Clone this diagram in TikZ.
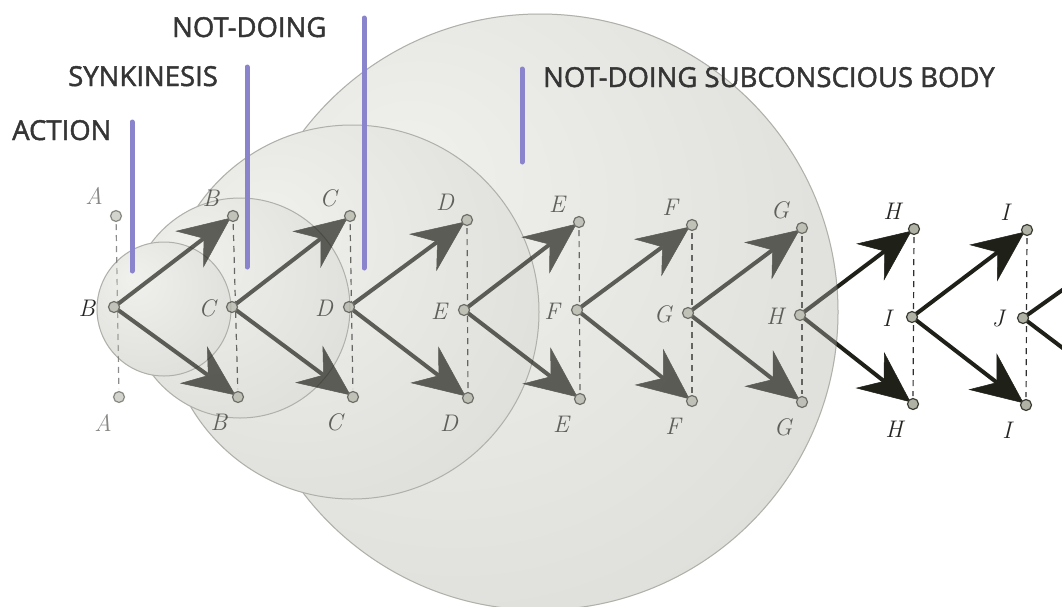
\documentclass[tikz,border=0pt]{standalone}
\usepackage{fontspec}
\newfontfamily\capfont{Open Sans}[FakeBold=1.6]
\usetikzlibrary{arrows.meta}

\definecolor{ink}{HTML}{1F2119}
\definecolor{letterink}{HTML}{262624}
\definecolor{dotfill}{HTML}{B0B2A6}
\definecolor{dotrim}{HTML}{3A3C32}
\definecolor{guideink}{HTML}{2E2E2E}
\definecolor{markerblue}{HTML}{8A84CC}
\definecolor{captext}{HTML}{353535}
\definecolor{sA}{HTML}{F0F0ED}
\definecolor{sB}{HTML}{E7E7E3}
\definecolor{sC}{HTML}{DEDEDA}
\definecolor{sD}{HTML}{D2D2CD}
\definecolor{sE}{HTML}{BEBEB8}
\definecolor{sF}{HTML}{ADADA7}
\definecolor{sEdge}{HTML}{B0B0AA}

\pgfdeclareradialshading{sphere}{\pgfpoint{-12bp}{12bp}}{%
  color(0bp)=(sA); color(18bp)=(sB); color(36bp)=(sC);
  color(50bp)=(sD); color(60bp)=(sE); color(68bp)=(sF)}

\tikzset{
  ball/.style={shading=sphere, draw=sEdge, line width=1pt},
  dot/.style={circle, minimum size=11pt, inner sep=0pt, fill=dotfill, draw=dotrim, line width=1.2pt},
  lett/.style={text=letterink, font=\fontsize{24}{24}\selectfont\itshape, inner sep=0pt},
  faded/.style={opacity=0.55},
  guide/.style={draw=guideink, line width=1.2pt, dash pattern=on 6pt off 5pt, shorten <=8pt, shorten >=8pt},
  arr/.style={draw=ink, line width=4pt, shorten <=3pt, shorten >=3pt,
    -{Stealth[length=52pt, width=46pt, inset=18pt, line width=0.5pt]}},
  stub/.style={draw=ink, line width=4pt, shorten <=3pt},
  marker/.style={draw=markerblue, line width=5pt, line cap=round},
  caption/.style={text=captext, anchor=base west, inner sep=0pt,
    font=\capfont\fontsize{27.5}{30}\selectfont}
}

\newcommand\drawspheres{%
  \path[ball] (540,312) circle[radius=298];
  \path[ball] (352,312) circle[radius=187];
  \path[ball] (240,308) circle[radius=110];
  \path[ball] (164,309) circle[radius=67];
}

\begin{document}
\begin{tikzpicture}[x=1pt, y=-1pt]
\useasboundingbox (0,0) rectangle (1062,606);
\fill[white] (0,0) rectangle (1062,606);

% nested bodies
\drawspheres

% positions of the three rows in each column
\foreach \i/\tx/\ty/\mx/\my/\bx/\by in {
  0/116/216/114/307/119/397, 1/233/216/232/307/238/397,
  2/350/216/349/307/353/397, 3/467/220/464/310/468/398,
  4/579/222/577/310/580/399, 5/692/225/688/313/692/401,
  6/802/228/800/315/802/402, 7/914/229/912/317/913/404,
  8/1027/230/1023/318/1026/405}{
  \coordinate (t\i) at (\tx,\ty);
  \coordinate (m\i) at (\mx,\my);
  \coordinate (b\i) at (\bx,\by);
}
\coordinate (e1) at (1068,286);
\coordinate (e2) at (1068,352);

% dashed column guides
\draw[guide, faded] (t0) -- (b0);
\foreach \i in {1,...,8}{\draw[guide] (t\i) -- (b\i);}

% forks
\foreach \i in {0,...,7}{
  \pgfmathtruncatemacro\j{\i+1}
  \draw[arr] (m\i) -- (t\j);
  \draw[arr] (m\i) -- (b\j);
}
\draw[stub] (m8) -- (e1);
\draw[stub] (m8) -- (e2);

% points
\node[dot, faded] (pt0) at (t0) {};
\node[dot] (pm0) at (m0) {};
\node[dot, faded] (pb0) at (b0) {};
\foreach \i in {1,...,8}{
  \node[dot] (pt\i) at (t\i) {};
  \node[dot] (pm\i) at (m\i) {};
  \node[dot] (pb\i) at (b\i) {};
}

% point letters
\path (t0) ++(-22,-20) node[lett, faded] (lt0) {A};
\path (m0) ++(-27,1) node[lett] (lm0) {B};
\path (b0) ++(-16,26) node[lett, faded] (lb0) {A};
\foreach \i/\u/\v in {1/B/C, 2/C/D, 3/D/E, 4/E/F, 5/F/G, 6/G/H, 7/H/I, 8/I/J}{
  \path (t\i) ++(-22,-18) node[lett] (lt\i) {\u};
  \path (m\i) ++(-25,1) node[lett] (lm\i) {\v};
  \path (b\i) ++(-19,25) node[lett] (lb\i) {\u};
}

% bodies seen through
\begin{scope}[transparency group, opacity=0.3]
  \drawspheres
\end{scope}

% level markers
\coordinate (k1a) at (132,122); \coordinate (k1b) at (132,271);
\coordinate (k2a) at (247,67);  \coordinate (k2b) at (247,267);
\coordinate (k3a) at (364,18);  \coordinate (k3b) at (364,268);
\coordinate (k4a) at (522,69);  \coordinate (k4b) at (522,162);
\draw[marker] (k1a) -- (k1b);
\draw[marker] (k2a) -- (k2b);
\draw[marker] (k3a) -- (k3b);
\draw[marker] (k4a) -- (k4b);

\node[caption] (c1) at (12,140) {ACTION};
\node[caption] (c2) at (68,86) {SYNKINESIS};
\node[caption] (c3) at (172,37) {NOT-DOING};
\node[caption] (c4) at (543,87) {NOT-DOING SUBCONSCIOUS BODY};
\end{tikzpicture}
\end{document}
